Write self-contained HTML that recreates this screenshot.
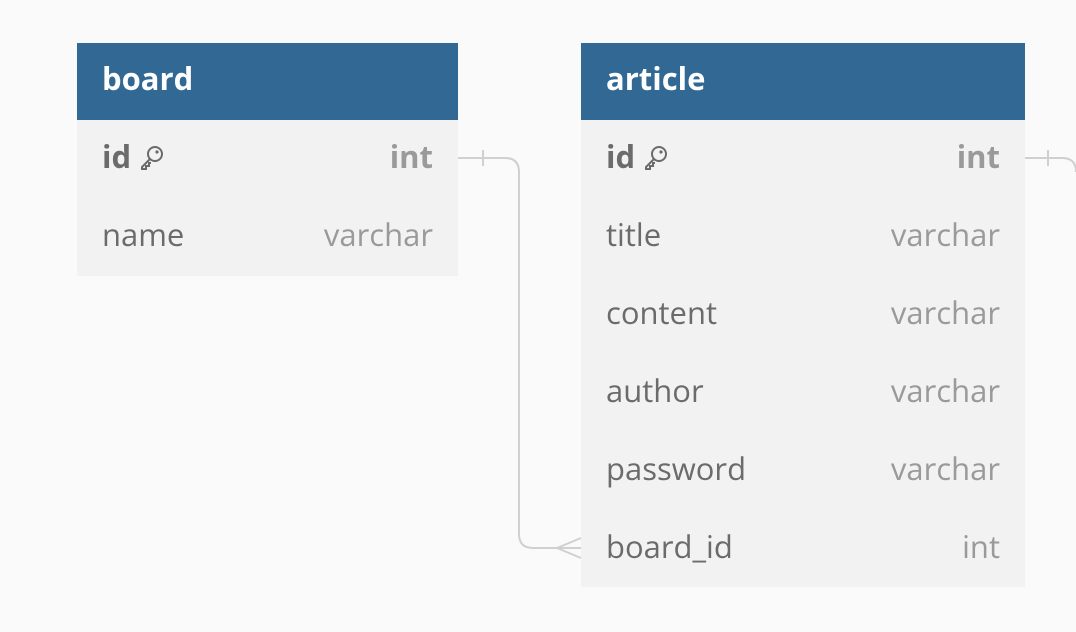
<!DOCTYPE html>
<html><head><meta charset="utf-8"><style>
body{margin:0;width:1076px;height:632px;background:#fafafa;position:relative;overflow:hidden;font-family:"Open Sans","Liberation Sans",sans-serif}
.t{position:absolute;background:#f2f2f2}
.h{height:77px;background:#316894;color:#fff;font-weight:bold;font-size:31px;line-height:72px;padding-left:25px}
.r{height:78px;position:relative;font-size:31px;line-height:74px;color:#6b6b6b}
.r .n{position:absolute;left:25px}
.r .ty{position:absolute;right:25px;color:#9a9a9a}
.b{font-weight:bold}
.b .n{color:#6b6b6b}
.k{display:inline-block;vertical-align:-3px;margin-left:8px}
svg.c{position:absolute;left:0;top:0}
</style></head><body>
<div class="t" style="left:77px;top:43px;width:381px;height:233px">
<div class="h">board</div>
<div class="r b"><span class="n">id<svg class="k" width="26" height="26" viewBox="0 0 26 26"><circle cx="16" cy="9" r="7" fill="none" stroke="#6b6b6b" stroke-width="2"/><circle cx="18" cy="7" r="1.6" fill="#6b6b6b"/><path d="M11 14 L3 22 L3 24 L7 24 L7 21 L10 21 L10 18 L12 18" fill="none" stroke="#6b6b6b" stroke-width="2"/></svg></span><span class="ty">int</span></div>
<div class="r"><span class="n">name</span><span class="ty">varchar</span></div>
</div>
<div class="t" style="left:581px;top:43px;width:444px;height:544px">
<div class="h">article</div>
<div class="r b"><span class="n">id<svg class="k" width="26" height="26" viewBox="0 0 26 26"><circle cx="16" cy="9" r="7" fill="none" stroke="#6b6b6b" stroke-width="2"/><circle cx="18" cy="7" r="1.6" fill="#6b6b6b"/><path d="M11 14 L3 22 L3 24 L7 24 L7 21 L10 21 L10 18 L12 18" fill="none" stroke="#6b6b6b" stroke-width="2"/></svg></span><span class="ty">int</span></div>
<div class="r"><span class="n">title</span><span class="ty">varchar</span></div>
<div class="r"><span class="n">content</span><span class="ty">varchar</span></div>
<div class="r"><span class="n">author</span><span class="ty">varchar</span></div>
<div class="r"><span class="n">password</span><span class="ty">varchar</span></div>
<div class="r"><span class="n">board_id</span><span class="ty">int</span></div>
</div>
<svg class="c" width="1076" height="632">
<g fill="none" stroke="#d0d0d0" stroke-width="2">
<path d="M458 158 H505 Q519 158 519 172 V534 Q519 548 533 548 H581"/>
<path d="M483 150 V166"/>
<path d="M557 548 L581 538 M557 548 L581 558"/>
<path d="M1025 158 H1062 Q1076 158 1076 172"/>
<path d="M1048 150 V166"/>
</g></svg>
</body></html>
